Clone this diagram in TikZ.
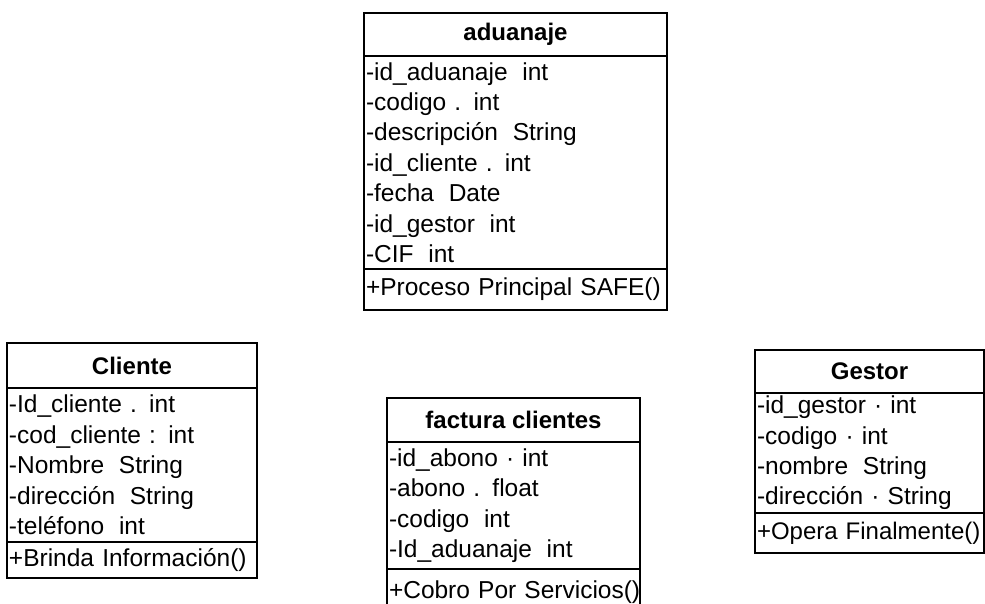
\documentclass[tikz,border=0pt]{standalone}
\usepackage{fontspec}
\setmainfont{Liberation Sans}
% wide gap between an attribute name and its type
\newcommand\clsgap{\hspace{0.6em}}
\begin{document}
\begin{tikzpicture}[x=1pt,y=-1pt,
  box/.style={draw, line width=1.7pt, anchor=north west, outer sep=0pt,
    inner xsep=2pt, inner ysep=0pt},
  head/.style={box, font=\bfseries\fontsize{24}{28}\selectfont, align=center},
  body/.style={box, font=\fontsize{24.5}{30.4}\selectfont, align=left},
]
\useasboundingbox (0,0) rectangle (985,603);

% class: aduanaje
\node[head, minimum width=303pt, minimum height=43pt] (adu) at (364,13) {aduanaje};
\node[body, minimum width=303pt, minimum height=213pt, text width=299pt] (aduA) at (adu.south west)
  {-id\_aduanaje\clsgap int\\
   -codigo . int\\
   -descripción\clsgap String\\
   -id\_cliente . int\\
   -fecha\clsgap Date\\
   -id\_gestor\clsgap int\\
   -CIF\clsgap int};
\node[body, minimum width=303pt, minimum height=41pt, text width=299pt] (aduM) at (aduA.south west)
  {\mbox{+Proceso Principal SAFE()}};

% class: Cliente
\node[head, minimum width=250pt, minimum height=45pt] (cli) at (7,343) {Cliente};
\node[body, minimum width=250pt, minimum height=154pt, text width=246pt] (cliA) at (cli.south west)
  {-Id\_cliente . int\\
   -cod\_cliente : int\\
   -Nombre\clsgap String\\
   -dirección\clsgap String\\
   -teléfono\clsgap int};
\node[body, minimum width=250pt, minimum height=36pt, text width=246pt] (cliM) at (cliA.south west)
  {\mbox{+Brinda Información()}};

% class: factura clientes (runs past the lower edge)
\node[head, minimum width=253pt, minimum height=44pt] (fac) at (387,398) {factura clientes};
\node[body, minimum width=253pt, minimum height=127pt, text width=249pt] (facA) at (fac.south west)
  {-id\_abono · int\\
   -abono . float\\
   -codigo\clsgap int\\
   -Id\_aduanaje\clsgap int};
\node[body, minimum width=253pt, minimum height=46pt, text width=249pt] (facM) at (facA.south west)
  {\mbox{+Cobro Por Servicios()}};

% class: Gestor
\node[head, minimum width=229pt, minimum height=43pt] (ges) at (755,350) {Gestor};
\node[body, minimum width=229pt, minimum height=120pt, text width=225pt] (gesA) at (ges.south west)
  {-id\_gestor · int\\
   -codigo · int\\
   -nombre\clsgap String\\
   -dirección · String};
\node[body, minimum width=229pt, minimum height=40pt, text width=225pt,
  font=\fontsize{24}{30.4}\selectfont] (gesM) at (gesA.south west)
  {\mbox{+Opera Finalmente()}};
\end{tikzpicture}
\end{document}
